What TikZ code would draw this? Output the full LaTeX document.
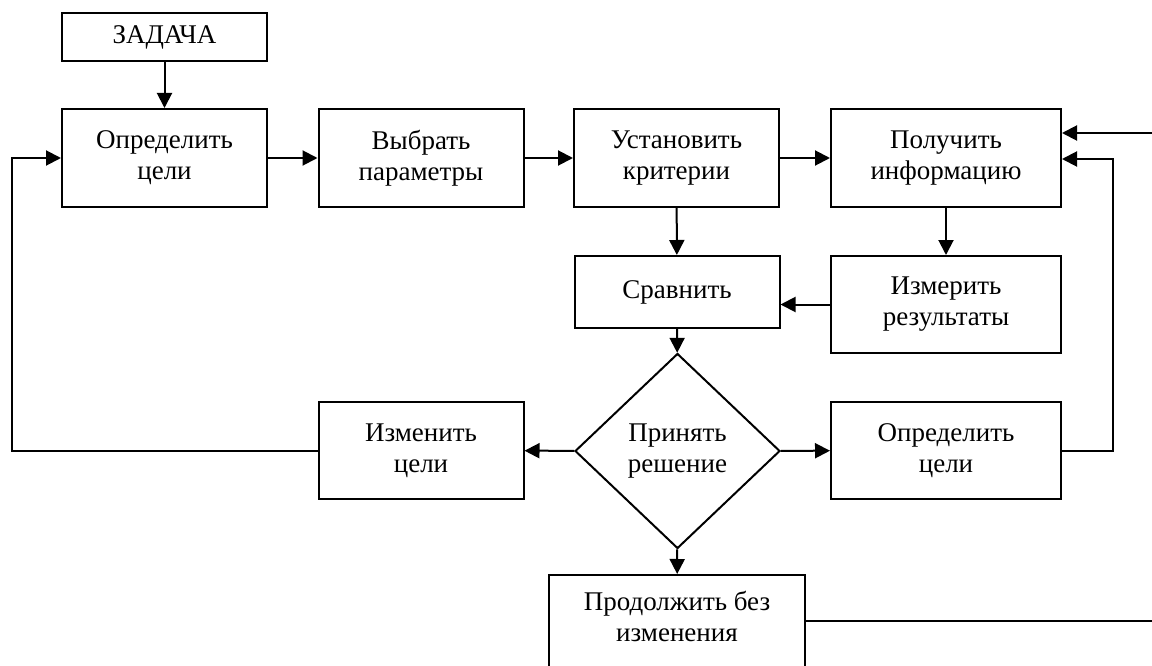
\documentclass[tikz,border=0pt]{standalone}
\usepackage{fontspec}
\setmainfont{Liberation Serif}
\usetikzlibrary{shapes.geometric,arrows.meta}
\begin{document}
\begin{tikzpicture}[x=1pt,y=-1pt,
  txt/.style={align=center,font=\fontsize{27pt}{31pt}\selectfont},
  box/.style={txt,draw,line width=2pt,rectangle,minimum width=205pt,minimum height=98pt,inner sep=0pt},
  wide/.style={box,minimum width=230pt},
  dia/.style={txt,draw,diamond,line width=2pt,minimum width=205pt,minimum height=195pt,inner sep=0pt},
  arr/.style={line width=2pt,-{Triangle[length=15pt,width=15pt]}},
  ln/.style={line width=2pt}]
\useasboundingbox (0,0) rectangle (1152,666);
\clip (0,0) rectangle (1152,666);
\node[box,minimum height=48pt] (task) at (164.5,37) {ЗАДАЧА};
\node[box] (goal) at (164.5,158) {Определить\\цели};
\node[box] (param) at (421,158) {Выбрать\\параметры};
\node[box] (crit) at (676.5,158) {Установить\\критерии};
\node[wide] (info) at (946,158) {Получить\\информацию};
\node[box,minimum height=72pt] (cmp) at (677,292) {Сравнить};
\node[wide,minimum height=97pt] (meas) at (946,304.5) {Измерить\\результаты};
\node[dia] (dec) at (677.5,451) {Принять\\решение};
\node[box,minimum height=97pt] (chg) at (421,450.5) {Изменить\\цели};
\node[wide,minimum height=97pt] (goal2) at (946,450.5) {Определить\\цели};
\node[box,minimum width=256pt,minimum height=120pt,anchor=north] (cont) at (677,574) {};
\node[txt] (contt) at (677,616) {Продолжить без\\изменения};
\coordinate (r1) at (1175,621);
\coordinate (rc) at (1175,133);
\coordinate (rb) at (1113,159);
\coordinate (lb) at (12,158);
\draw[arr] (task) -- (goal);
\draw[arr] (goal) -- (param);
\draw[arr] (param) -- (crit);
\draw[arr] (crit) -- (info);
\draw[arr] (crit) -- (cmp);
\draw[arr] (info) -- (meas);
\draw[arr] (meas.west) -- (meas.west -| cmp.east);
\draw[arr] (cmp) -- (dec);
\draw[arr] (dec) -- (chg);
\draw[arr] (dec) -- (goal2);
\draw[arr] (dec) -- (cont);
\draw[arr] (chg.west) -| (lb) -- (goal.west);
\draw[arr] (goal2.east) -| (rb) -- (rb -| info.east);
\draw[arr] (r1 -| cont.east) -- (r1) -- (rc) -- (rc -| info.east);
\end{tikzpicture}
\end{document}
